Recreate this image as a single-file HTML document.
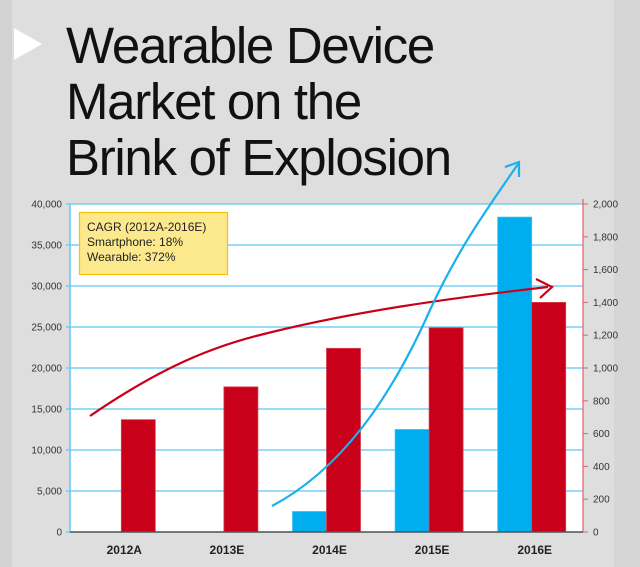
<!DOCTYPE html>
<html><head><meta charset="utf-8"><style>
body{margin:0;width:640px;height:567px;overflow:hidden;background:#dedede;font-family:"Liberation Sans",sans-serif}
#strip{position:absolute;left:0;top:0;width:12px;height:567px;background:#d2d2d2}
#strip2{position:absolute;right:0;top:0;width:26px;height:567px;background:#d6d6d6}
#title{position:absolute;left:66px;top:18px;font-size:51px;line-height:56px;letter-spacing:-1.3px;color:#111;font-weight:normal}
#tri{position:absolute;left:14px;top:28px;width:0;height:0;border-top:16px solid transparent;border-bottom:16px solid transparent;border-left:28px solid #fff}
svg{position:absolute;left:0;top:0}
</style></head><body>
<div id="strip"></div>
<div id="strip2"></div>
<div id="tri"></div>
<div id="title">Wearable Device<br>Market on the<br>Brink of Explosion</div>
<svg id="chart" width="640" height="567"></svg>
<script>
const categories=["2012A","2013E","2014E","2015E","2016E"];
const smartphone=[13700,17700,22400,24900,28000];
const wearable=[0,0,2500,12500,38400];
const leftTicks=[0,5000,10000,15000,20000,25000,30000,35000,40000];
const rightTicks=[0,200,400,600,800,1000,1200,1400,1600,1800,2000];
const X0=70,X1=583,Y0=532,Y1=204;
const yL=v=>Y0-(v/40000)*(Y0-Y1);
const yR=v=>Y0-(v/2000)*(Y0-Y1);
const bw=(X1-X0)/categories.length;
const xc=i=>X0+bw*(i+0.5);
const svg=document.getElementById('chart');
const NS="http://www.w3.org/2000/svg";
function mk(t,a){const e=document.createElementNS(NS,t);for(const k in a)e.setAttribute(k,a[k]);svg.appendChild(e);return e;}
let e=mk('rect',{x:X0,y:Y1,width:X1-X0,height:Y0-Y1,fill:'#fff'});


leftTicks.forEach(v=>{
 let g=mk('line',{x1:X0-4,x2:X1,y1:yL(v),y2:yL(v),stroke:'#5ec8f2','stroke-width':1.2});
 
 
 let t=mk('text',{x:X0-8,y:yL(v)+3.5,'text-anchor':'end','font-size':10,fill:'#333'});
 t.textContent=v.toLocaleString('en-US');
 
 
});
rightTicks.forEach(v=>{
 let g=mk('line',{x1:X1,x2:X1+5,y1:yR(v),y2:yR(v),stroke:'#e06070','stroke-width':1});
 
 
 let t=mk('text',{x:X1+10,y:yR(v)+3.5,'font-size':10,fill:'#333'});
 t.textContent=v.toLocaleString('en-US');
 
 
});
e=mk('line',{x1:X0,x2:X0,y1:Y1,y2:Y0,stroke:'#5ec8f2','stroke-width':1.5});


e=mk('line',{x1:X1,x2:X1,y1:Y1-5,y2:Y0,stroke:'#e06070','stroke-width':1.2});


const barW=34;
categories.forEach((c,i)=>{
 if(wearable[i]>0){
  let b=mk('rect',{x:xc(i)-barW,y:yL(wearable[i]),width:barW,height:Y0-yL(wearable[i]),fill:'#00adef',stroke:'#3cbff0','stroke-width':0.8});
  
  
 }
 let r=mk('rect',{x:xc(i),y:yL(smartphone[i]),width:barW,height:Y0-yL(smartphone[i]),fill:'#c8001a',stroke:'#d8404e','stroke-width':0.8});
 
 
 let t=mk('text',{x:xc(i)+3,y:Y0+22,'text-anchor':'middle','font-size':12,'font-weight':'bold',fill:'#222'});
 t.textContent=c;
 
 
});
e=mk('line',{x1:X0,x2:X1,y1:Y0,y2:Y0,stroke:'#555','stroke-width':1.5});


e=mk('path',{d:'M90,416 C150,375 200,350 260,335 C350,312 450,298 548,287',fill:'none',stroke:'#c8001a','stroke-width':2.2});


e=mk('path',{d:'M536,279 L552,287 L540,298',fill:'none',stroke:'#c8001a','stroke-width':2.2});


e=mk('path',{d:'M272,506 C340,470 390,400 430,310 C460,245 490,205 518,164',fill:'none',stroke:'#1ab0ee','stroke-width':2.2});


e=mk('path',{d:'M505,167 L519,162 L519,177',fill:'none',stroke:'#1ab0ee','stroke-width':2.2});


e=mk('rect',{x:79.5,y:212.5,width:148,height:62,fill:'#fde98d',stroke:'#f5c400','stroke-width':1.2});


["CAGR (2012A-2016E)","Smartphone: 18%","Wearable: 372%"].forEach((s,k)=>{
 let t=mk('text',{x:87,y:231+k*15,'font-size':12,fill:'#222'});
 t.textContent=s;
 
 
});
</script>
</body></html>
